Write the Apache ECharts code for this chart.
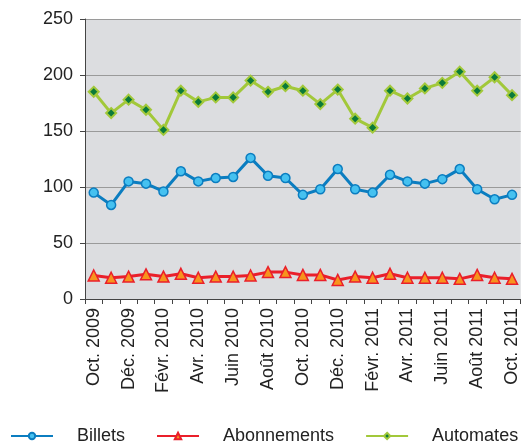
<!DOCTYPE html>
<html>
<head>
<meta charset="utf-8">
<script src="https://cdn.jsdelivr.net/npm/echarts@6/dist/echarts.min.js"></script>
<style>
    html, body { margin: 0; padding: 0; background: #fff; }
    #main { width: 521px; height: 443px; }
</style>
</head>
<body>
<div id="main"></div>
<script>
// mois (un point par mois, une étiquette sur deux)
var months = ['Oct. 2009', 'Nov. 2009', 'Déc. 2009', 'Janv. 2010', 'Févr. 2010', 'Mars 2010',
    'Avr. 2010', 'Mai 2010', 'Juin 2010', 'Juil. 2010', 'Août 2010', 'Sept. 2010',
    'Oct. 2010', 'Nov. 2010', 'Déc. 2010', 'Janv. 2011', 'Févr. 2011', 'Mars 2011',
    'Avr. 2011', 'Mai 2011', 'Juin 2011', 'Juil. 2011', 'Août 2011', 'Sept. 2011', 'Oct. 2011'];
var billets = [95, 84, 105, 103, 96, 114, 105, 108, 109, 126, 110, 108,
    93, 98, 116, 98, 95, 111, 105, 103, 107, 116, 98, 89, 93];
var abonnements = [21, 19, 20, 22, 20, 22.5, 19, 20, 20, 21, 24, 24,
    21.5, 21.5, 17, 20, 19, 22.5, 19, 19, 19, 18, 21.5, 19, 18];
var automates = [185, 166, 178, 169, 151, 186, 176, 180, 180, 195, 185, 190,
    186, 174, 187, 161, 153, 186, 179, 188, 193, 203, 186, 198, 182];
var yTicks = [0, 50, 100, 150, 200, 250];

var myChart = echarts.init(document.getElementById('main'));
var font = 'Liberation Sans, Arial, sans-serif';

var option = {
    animation: false,
    textStyle: { fontFamily: font },
    grid: {
        left: 85, right: -1, top: 19, bottom: 144,
        show: true,
        backgroundColor: '#dcdde0',
        borderWidth: 0
    },
    legend: {
        left: 10,
        top: 427,
        width: 600,
        padding: 0,
        itemWidth: 42,
        itemHeight: 8,
        itemGap: 31,
        textStyle: { fontSize: 18, color: '#222', fontFamily: font, padding: [0, 0, 0, 19] },
        data: ['Billets', 'Abonnements', 'Automates']
    },
    xAxis: {
        type: 'category',
        data: months,
        boundaryGap: true,
        axisLine: { lineStyle: { color: '#444', width: 1 } },
        axisTick: { show: true, interval: 0, length: 5, lineStyle: { color: '#444' } },
        axisLabel: {
            interval: 1,
            rotate: 90,
            margin: 9,
            fontSize: 18,
            color: '#222',
            fontFamily: font
        },
        splitLine: { show: false }
    },
    yAxis: {
        type: 'value',
        min: yTicks[0],
        max: yTicks[yTicks.length - 1],
        interval: 50,
        axisLine: { show: true, lineStyle: { color: '#444', width: 1 } },
        axisTick: { show: true, length: 5, lineStyle: { color: '#444' } },
        axisLabel: { fontSize: 18, color: '#222', margin: 12, fontFamily: font },
        splitLine: { show: true, lineStyle: { color: '#9a9a9a', width: 1 } }
    },
    series: [
        {
            name: 'Billets',
            type: 'line',
            data: billets,
            symbol: 'circle',
            symbolSize: 9,
            lineStyle: { color: '#0b7dc0', width: 3 },
            itemStyle: { color: '#45c1f0', borderColor: '#0b7dc0', borderWidth: 1.5 }
        },
        {
            name: 'Abonnements',
            type: 'line',
            data: abonnements,
            symbol: 'triangle',
            symbolSize: 11,
            lineStyle: { color: '#ea1f2a', width: 3 },
            itemStyle: { color: '#f7941d', borderColor: '#ea1f2a', borderWidth: 1.5 }
        },
        {
            name: 'Automates',
            type: 'line',
            data: automates,
            symbol: 'diamond',
            symbolSize: 10,
            lineStyle: { color: '#a2c83a', width: 3 },
            itemStyle: { color: '#0a7a3a', borderColor: '#a2c83a', borderWidth: 2 }
        }
    ]
};
myChart.setOption(option);
</script>
</body>
</html>
